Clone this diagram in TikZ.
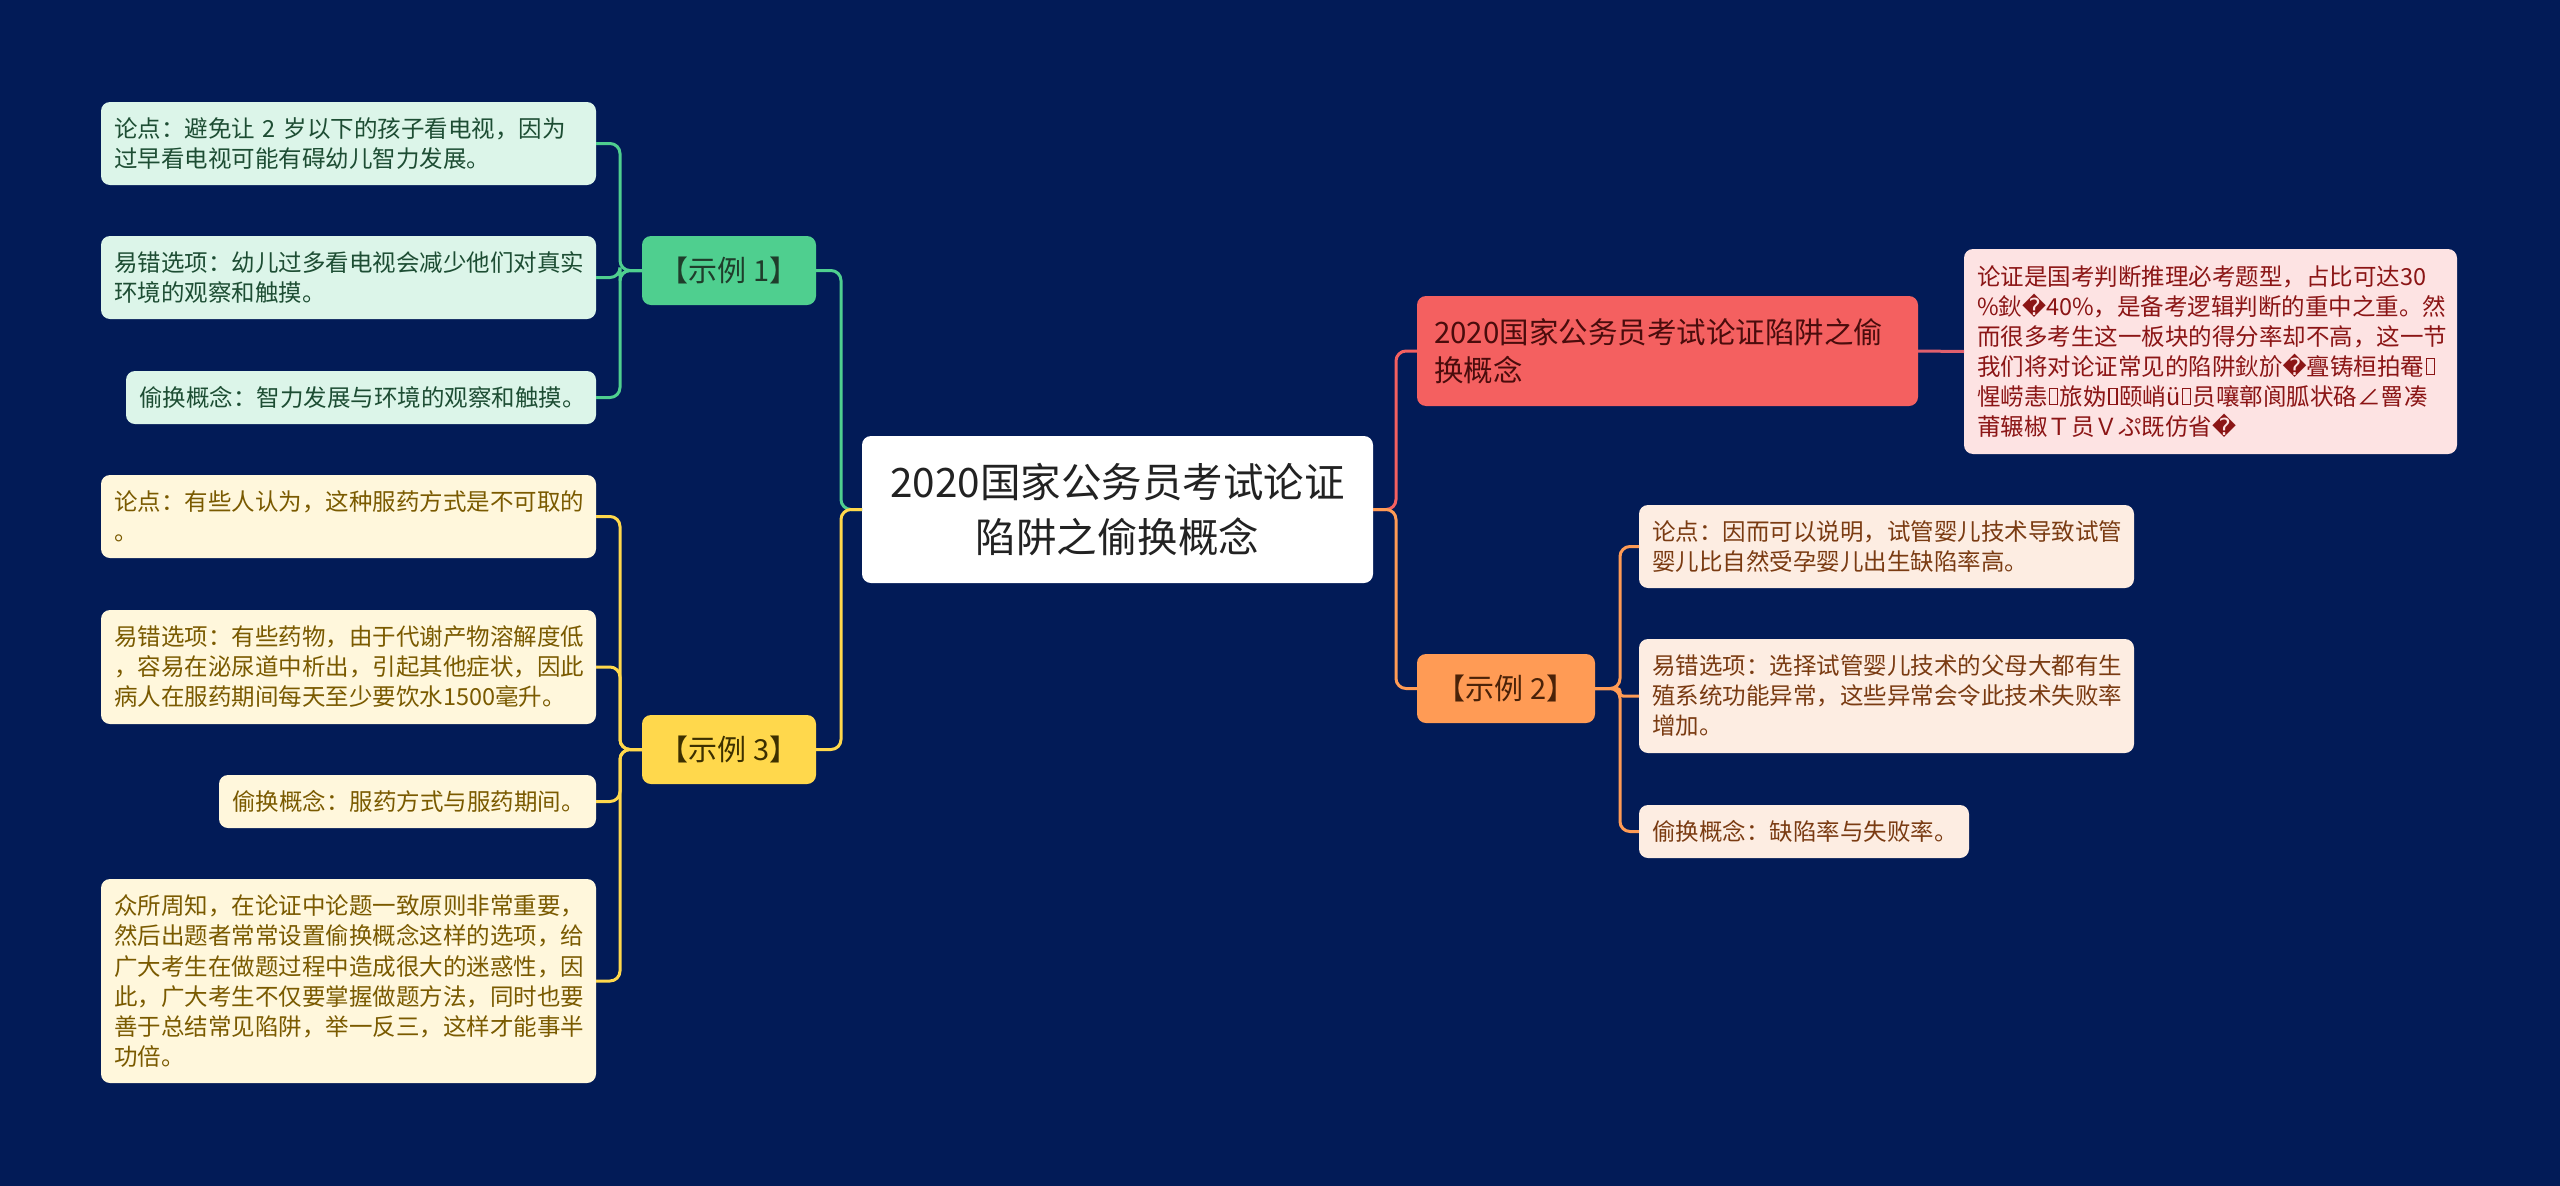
\documentclass[tikz,border=0pt]{standalone}
\usepackage{fontspec}
\setmainfont{Noto Sans CJK SC}
\newfontfamily\dvfont{DejaVu Sans}
\newcommand\repch{{\dvfont\char"FFFD}}
\newcommand\tofu{\kern1.5pt\hbox{\vrule width 1.4pt\vbox to 0.74em{\hrule width 0.28em height 1.4pt\vfil\hrule height 1.4pt}\vrule width 1.4pt}\kern1.5pt}
\definecolor{bg}{HTML}{021B57}
\definecolor{gmain}{HTML}{4FCF8F}
\definecolor{gleaffill}{HTML}{DCF5E9}
\definecolor{gtext}{HTML}{1D4D33}
\definecolor{gdark}{HTML}{1F3D2B}
\definecolor{ymain}{HTML}{FFD84C}
\definecolor{yleaffill}{HTML}{FFF7DC}
\definecolor{ytext}{HTML}{7A5A00}
\definecolor{ydark}{HTML}{3D3000}
\definecolor{rmain}{HTML}{F46060}
\definecolor{rtext}{HTML}{4A0C0C}
\definecolor{pleaffill}{HTML}{FDE3E3}
\definecolor{ptext}{HTML}{8B1515}
\definecolor{pline}{HTML}{E0606E}
\definecolor{omain}{HTML}{FF9B55}
\definecolor{odark}{HTML}{4A2208}
\definecolor{oleaffill}{HTML}{FDEDE2}
\definecolor{otext}{HTML}{7A3B12}
\definecolor{ctext}{HTML}{222222}
\tikzset{
  base/.style={rounded corners=9pt, inner ysep=0pt, outer sep=0pt},
  leaf/.style={base, align=left, inner xsep=13pt, font=\fontsize{23.5}{30}\selectfont},
  gleaf/.style={leaf, fill=gleaffill, text=gtext},
  yleaf/.style={leaf, fill=yleaffill, text=ytext},
  pleaf/.style={leaf, fill=pleaffill, text=ptext},
  oleaf/.style={leaf, fill=oleaffill, text=otext},
  exbox/.style={base, align=center, minimum width=174pt, minimum height=69pt, font=\fontsize{29}{34}\selectfont},
  conn/.style={line width=3pt, rounded corners=10pt},
  gconn/.style={conn, draw=gmain},
  yconn/.style={conn, draw=ymain},
  rconn/.style={conn, draw=rmain},
  oconn/.style={conn, draw=omain},
  pconn/.style={conn, draw=pline},
}
\begin{document}
\begin{tikzpicture}[x=1pt, y=-1pt]
\useasboundingbox (0,0) rectangle (2560,1186);
\fill[bg] (0,0) rectangle (2560,1186);

% centre
\node[base, fill=white, text=ctext, align=center, minimum width=511pt, minimum height=147pt,
  font=\fontsize{40.5}{55}\selectfont] (c) at (1117.5,509.5) {2020国家公务员考试论证\\陷阱之偷换概念};

% example nodes
\node[exbox, fill=gmain, text=gdark] (s1) at (729,270.5) {【示例 1】};
\node[exbox, fill=ymain, text=ydark] (s3) at (729,749.5) {【示例 3】};
\node[exbox, fill=omain, text=odark, minimum width=178pt] (s2) at (1506,688.5) {【示例 2】};
\node[base, fill=rmain, text=rtext, align=left, inner xsep=17pt, text width=467pt, minimum height=110pt,
  font=\fontsize{29.5}{38}\selectfont] (r) at (1667.5,351) {2020国家公务员考试论证陷阱之偷\\换概念};

% green leaves
\node[gleaf, text width=469pt, minimum height=83pt] (l1) at (348.5,143.5)
  {论点：避免让 2 岁以下的孩子看电视，因为\\过早看电视可能有碍幼儿智力发展。};
\node[gleaf, text width=469pt, minimum height=83pt] (l2) at (348.5,277.5)
  {易错选项：幼儿过多看电视会减少他们对真实\\环境的观察和触摸。};
\node[gleaf, text width=444pt, minimum height=53pt] (l3) at (361,397.5)
  {偷换概念：智力发展与环境的观察和触摸。};

% yellow leaves
\node[yleaf, text width=469pt, minimum height=83pt] (y1) at (348.5,516.5)
  {论点：有些人认为，这种服药方式是不可取的\\。};
\node[yleaf, text width=469pt, minimum height=114pt] (y2) at (348.5,667)
  {易错选项：有些药物，由于代谢产物溶解度低\\，容易在泌尿道中析出，引起其他症状，因此\\病人在服药期间每天至少要饮水1500毫升。};
\node[yleaf, text width=351pt, minimum height=53pt] (y3) at (407.5,801.5)
  {偷换概念：服药方式与服药期间。};
\node[yleaf, text width=469pt, minimum height=204pt] (y4) at (348.5,981)
  {众所周知，在论证中论题一致原则非常重要，\\然后出题者常常设置偷换概念这样的选项，给\\广大考生在做题过程中造成很大的迷惑性，因\\此，广大考生不仅要掌握做题方法，同时也要\\善于总结常见陷阱，举一反三，这样才能事半\\功倍。};

% pink leaf
\node[pleaf, text width=467pt, minimum height=205pt] (p) at (2210.5,351.5)
  {论证是国考判断推理必考题型，占比可达30\\\%鈥\repch 40\%，是备考逻辑判断的重中之重。然\\而很多考生这一板块的得分率却不高，这一节\\我们将对论证常见的陷阱鈥斺\repch 亹铸桓拍罨\tofu\\惺崂恚\tofu 旅妫\tofu 颐峭ü\tofu 员嚷鄣阆胍状硌∠罾凑\\莆辗椒Ｔ员Ｖぷ既仿省\repch};

% orange leaves
\node[oleaf, text width=469pt, minimum height=83pt] (o1) at (1886.5,546.5)
  {论点：因而可以说明，试管婴儿技术导致试管\\婴儿比自然受孕婴儿出生缺陷率高。};
\node[oleaf, text width=469pt, minimum height=114pt] (o2) at (1886.5,696)
  {易错选项：选择试管婴儿技术的父母大都有生\\殖系统功能异常，这些异常会令此技术失败率\\增加。};
\node[oleaf, text width=304pt, minimum height=53pt] (o3) at (1804,831.5)
  {偷换概念：缺陷率与失败率。};

% connectors
\draw[gconn] (c.west) -- ++(-21,0) |- (s1.east);
\draw[yconn] (c.west) -- ++(-21,0) |- (s3.east);
\draw[gconn] (s1.west) -- ++(-22,0) |- (l1.east);
\draw[gconn] (s1.west) -- ++(-22,0) |- (l2.east);
\draw[gconn] (s1.west) -- ++(-22,0) |- (l3.east);
\draw[yconn] (s3.west) -- ++(-22,0) |- (y1.east);
\draw[yconn] (s3.west) -- ++(-22,0) |- (y2.east);
\draw[yconn] (s3.west) -- ++(-22,0) |- (y3.east);
\draw[yconn] (s3.west) -- ++(-22,0) |- (y4.east);
\draw[rconn] (c.east) -- ++(23,0) |- (r.west);
\draw[oconn] (c.east) -- ++(23,0) |- (s2.west);
\draw[pconn] (r.east) -- (p.west);
\draw[oconn] (s2.east) -- ++(25,0) |- (o1.west);
\draw[oconn, rounded corners=3pt] (s2.east) -- ++(25,0) |- (o2.west);
\draw[oconn] (s2.east) -- ++(25,0) |- (o3.west);
\end{tikzpicture}
\end{document}
